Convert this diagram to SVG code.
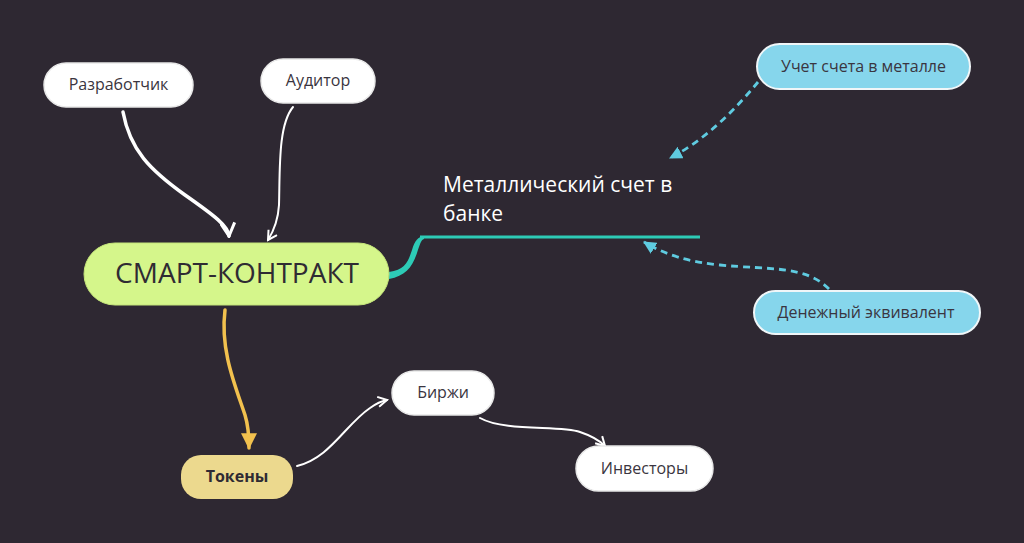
<svg xmlns="http://www.w3.org/2000/svg" width="1024" height="543" viewBox="0 0 1024 543">
<defs>
<style>
.lbl{font-family:"Open Sans","Noto Sans","Liberation Sans",sans-serif;fill:#3a3540;text-anchor:middle}
.wn{fill:#ffffff;stroke:#e8e8e8;stroke-width:1.5}
.bn{fill:#86d6ec;stroke:#f0f6f8;stroke-width:2}
.wl{fill:none;stroke:#ffffff;stroke-linecap:round}
.dl{fill:none;stroke:#5fcbe0;stroke-width:2.8;stroke-dasharray:7 5}
</style>
<marker id="openW" viewBox="0 0 12 12" refX="10" refY="6" markerWidth="12" markerHeight="12" markerUnits="userSpaceOnUse" orient="auto">
<path d="M1,1 L10,6 L1,11" fill="none" stroke="#ffffff" stroke-width="2" stroke-linejoin="miter"/>
</marker>
<marker id="openW2" viewBox="0 0 16 16" refX="14" refY="8" markerWidth="16" markerHeight="16" markerUnits="userSpaceOnUse" orient="auto">
<path d="M1,1 L14,8 L1,15" fill="none" stroke="#ffffff" stroke-width="3"/>
</marker>
<marker id="triB" viewBox="0 0 12 12" refX="11" refY="6" markerWidth="13" markerHeight="13" markerUnits="userSpaceOnUse" orient="auto">
<path d="M0,0 L12,6 L0,12 Z" fill="#5fcbe0"/>
</marker>
<marker id="triY" viewBox="0 0 12 12" refX="11" refY="6" markerWidth="16" markerHeight="16" markerUnits="userSpaceOnUse" orient="auto">
<path d="M0,0 L12,6 L0,12 Z" fill="#f2c14e"/>
</marker>
</defs>
<rect width="1024" height="543" fill="#2e2832"/>
<g id="connectors">
<path class="wl" stroke-width="3.5" d="M123,112 C130,150 150,170 185,195 C215,216 228,226 229,236" marker-end="url(#openW2)"/>
<path class="wl" stroke-width="2" d="M293,107 C278,125 280,170 279,205 C278,222 273,232 268,240" marker-end="url(#openW)"/>
<path d="M389,272 C405,270 408,262 412,250 C415,240 418,237 424,236 L424,239 C421,240 420,244 417,253 C412,268 405,276 389,279 Z" fill="#2dcbb6"/>
<line x1="420" y1="237" x2="700" y2="237" stroke="#2dcbb6" stroke-width="3"/>
<path class="dl" d="M758,82 C735,110 705,140 670,158" marker-end="url(#triB)"/>
<path class="dl" d="M829,289 C805,265 770,270 720,265 C690,262 665,255 644,242" marker-end="url(#triB)"/>
<path fill="none" stroke="#f2c14e" stroke-width="3.5" stroke-linecap="round" d="M225,310 C220,350 235,385 245,415 C249,428 249,438 249,448" marker-end="url(#triY)"/>
<path class="wl" stroke-width="2" d="M297,466 C330,458 345,425 370,408 C377,403 382,401 387,400" marker-end="url(#openW)"/>
<path class="wl" stroke-width="2" d="M480,418 C505,432 560,425 580,432 C592,436 600,441 605,446" marker-end="url(#openW)"/>
</g>
<g id="n-dev">
<rect class="wn" x="44" y="63" width="149" height="44" rx="22"/>
<text class="lbl" x="118.5" y="90" font-size="16">Разработчик</text>
</g>
<g id="n-aud">
<rect class="wn" x="261" y="59" width="114" height="44" rx="22"/>
<text class="lbl" x="318" y="86" font-size="16">Аудитор</text>
</g>
<g id="n-smart">
<rect x="84" y="243" width="305" height="62" rx="31" fill="#d5f68b" stroke="#c4e57a" stroke-width="1"/>
<text class="lbl" x="237" y="283" font-size="28" style="fill:#2f2b33">СМАРТ-КОНТРАКТ</text>
</g>
<g id="n-metal">
<text x="443" y="192" font-size="21" font-family="'Open Sans','Noto Sans','Liberation Sans',sans-serif" fill="#ffffff">Металлический счет в</text>
<text x="443" y="221" font-size="21" font-family="'Open Sans','Noto Sans','Liberation Sans',sans-serif" fill="#ffffff">банке</text>
</g>
<g id="n-uchet">
<rect class="bn" x="757" y="44" width="213" height="45" rx="22.5"/>
<text class="lbl" x="863.5" y="72" font-size="16">Учет счета в металле</text>
</g>
<g id="n-den">
<rect class="bn" x="754" y="291" width="226" height="43" rx="21.5"/>
<text class="lbl" x="866" y="318" font-size="16">Денежный эквивалент</text>
</g>
<g id="n-tok">
<rect x="181" y="455" width="112" height="44" rx="20" fill="#ecd98e"/>
<text class="lbl" x="237" y="482" font-size="16" font-weight="bold" style="fill:#2f2b33">Токены</text>
</g>
<g id="n-birzh">
<rect class="wn" x="392" y="371" width="102" height="44" rx="22"/>
<text class="lbl" x="443" y="398" font-size="16">Биржи</text>
</g>
<g id="n-inv">
<rect class="wn" x="576" y="446" width="137" height="45" rx="22.5"/>
<text class="lbl" x="644.5" y="474" font-size="16">Инвесторы</text>
</g>
</svg>
